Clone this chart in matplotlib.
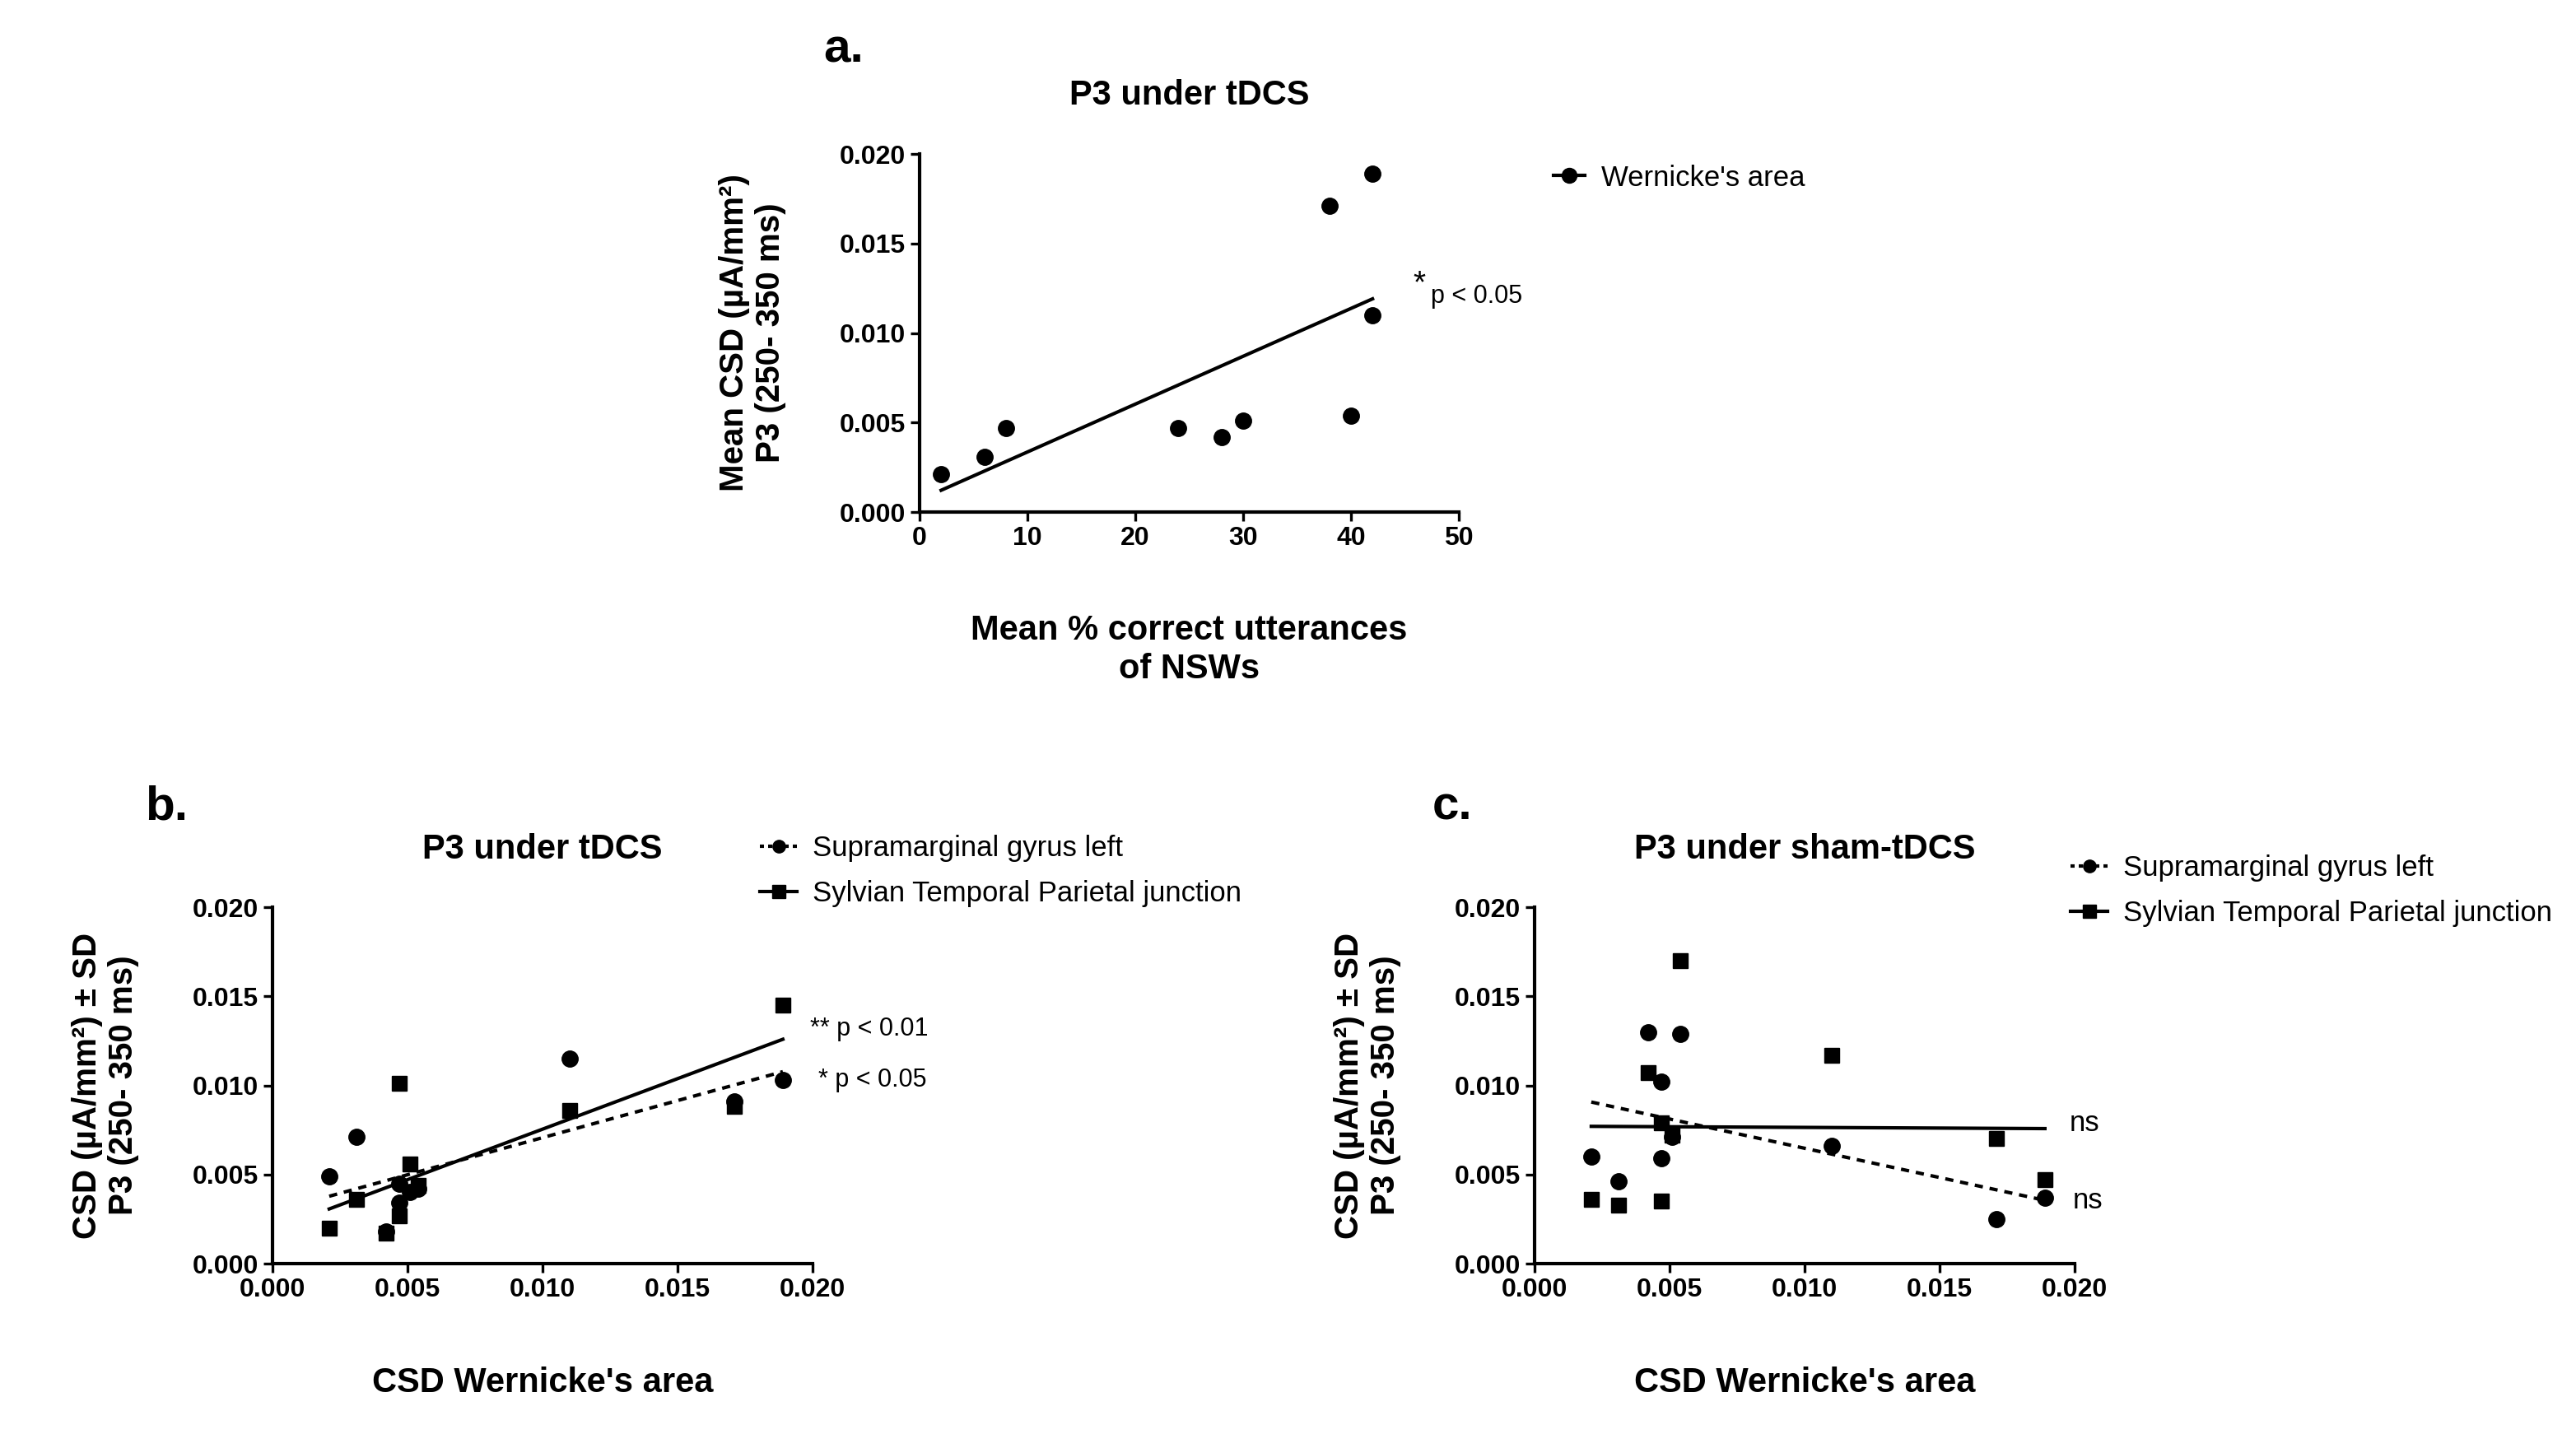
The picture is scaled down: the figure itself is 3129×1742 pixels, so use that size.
''' P3 / CSD correlation panels (a, b, c) '''

import numpy as np
import matplotlib
matplotlib.use('Agg')
import matplotlib.pyplot as plt
from matplotlib.lines import Line2D

plt.rcParams['font.family'] = ['Liberation Sans', 'DejaVu Sans']

# ---- data ----
# panel a: % correct utterances vs mean CSD in Wernicke's area
pct_correct = [2, 6, 8, 24, 28, 30, 38, 40, 42, 42]
wernicke = [0.0021, 0.0031, 0.0047, 0.0047, 0.0042, 0.0051, 0.0171, 0.0054, 0.0189, 0.0110]

# panel b: tDCS
smg_tdcs = [0.0049, 0.0071, 0.0034, 0.0045, 0.0018, 0.0040, 0.0091, 0.0042, 0.0103, 0.0115]
stp_tdcs = [0.0020, 0.0036, 0.0027, 0.0101, 0.0017, 0.0056, 0.0088, 0.0044, 0.0145, 0.0086]

# panel c: sham-tDCS
smg_sham = [0.0060, 0.0046, 0.0059, 0.0102, 0.0130, 0.0071, 0.0025, 0.0129, 0.0037, 0.0066]
stp_sham = [0.0036, 0.0033, 0.0035, 0.0079, 0.0107, 0.0072, 0.0070, 0.0170, 0.0047, 0.0117]

labels_bc = ['Supramarginal gyrus left', 'Sylvian Temporal Parietal junction']
xticks_a = [0, 10, 20, 30, 40, 50]
ticks_csd = [0.000, 0.005, 0.010, 0.015, 0.020]

W, H = 3129, 1742
fig = plt.figure(figsize=(W / 100, H / 100), dpi=100)


def rect(left, top, right, bottom):
    return [left / W, 1 - bottom / H, (right - left) / W, (bottom - top) / H]


def style_axes(ax):
    for s in ['top', 'right']:
        ax.spines[s].set_visible(False)
    for s in ['left', 'bottom']:
        ax.spines[s].set_linewidth(3)
    ax.tick_params(width=2.4, length=8, labelsize=23, pad=4)
    for lab in ax.get_xticklabels() + ax.get_yticklabels():
        lab.set_fontweight('bold')
    ax.set_yticks(ticks_csd)
    ax.set_yticklabels([f'{t:.3f}' for t in ticks_csd], fontweight='bold')
    ax.set_ylim(0, 0.020)


def fit_line(ax, x, y, ls):
    # linear regression drawn over the x range of the data
    k, b = np.polyfit(x, y, 1)
    xs = np.array([min(x), max(x)])
    ax.plot(xs, k * xs + b, color='black', lw=3, linestyle=ls, zorder=2)


# ---------- panel a ----------
ax = fig.add_axes(rect(1117, 187, 1772, 622))
ax.plot(pct_correct, wernicke, 'o', color='black', ms=14, zorder=3)
fit_line(ax, pct_correct, wernicke, '-')
ax.set_xlim(0, 50)
ax.set_xticks(xticks_a)
ax.set_xticklabels([str(t) for t in xticks_a], fontweight='bold')
style_axes(ax)
ax.set_ylabel('Mean CSD (\u00b5A/mm\u00b2)\nP3 (250- 350 ms)', fontsize=29,
              fontweight='bold', va='center')
ax.yaxis.set_label_coords(-0.31, 0.5)
ax.set_xlabel('Mean % correct utterances\nof NSWs', fontsize=30,
              fontweight='bold', va='center', linespacing=1.2)
ax.xaxis.set_label_coords(0.5, -0.385)
ax.text(0.5, 1 + 71 / 435, 'P3 under tDCS', transform=ax.transAxes,
        ha='center', va='center', fontsize=30, fontweight='bold')
h = [Line2D([], [], color='black', marker='o', ms=13, lw=3)]
fig.legend(h, ["Wernicke's area"], loc='center left', frameon=False,
           bbox_to_anchor=(1856 / W, 1 - 216 / H), fontsize=25,
           handlelength=1.1, handletextpad=0.55)
fig.text(1716 / W, 1 - 345 / H, '*', fontsize=28, ha='left', va='center')
fig.text(1738 / W, 1 - 360 / H, 'p < 0.05', fontsize=22, ha='left', va='center')
fig.text(1000 / W, 1 - 60 / H, 'a.', fontsize=42, fontweight='bold',
         ha='left', va='center')

# ---------- panels b and c ----------
panels = [
    (rect(331, 1102, 987, 1535), smg_tdcs, stp_tdcs, 'P3 under tDCS', 'b.', 176,
     (892, 1058)),
    (rect(1864, 1102, 2520, 1535), smg_sham, stp_sham, 'P3 under sham-tDCS', 'c.',
     1740, (2484, 1082)),
]
for pos, smg, stp, title, letter, lx, leg in panels:
    ax = fig.add_axes(pos)
    ax.plot(wernicke, smg, 'o', color='black', ms=14, zorder=3)
    ax.plot(wernicke, stp, 's', color='black', ms=13, zorder=3)
    fit_line(ax, wernicke, smg, (0, (2.4, 2)))
    fit_line(ax, wernicke, stp, '-')
    ax.set_xlim(0, 0.020)
    ax.set_xticks(ticks_csd)
    ax.set_xticklabels([f'{t:.3f}' for t in ticks_csd], fontweight='bold')
    style_axes(ax)
    ax.set_ylabel('CSD (\u00b5A/mm\u00b2) \u00b1 SD\nP3 (250- 350 ms)', fontsize=29,
                  fontweight='bold', va='center')
    ax.yaxis.set_label_coords(-0.31, 0.5)
    ax.set_xlabel("CSD Wernicke's area", fontsize=30, fontweight='bold', va='center')
    ax.xaxis.set_label_coords(0.5, -0.335)
    ax.text(0.5, 1 + 70 / 435, title, transform=ax.transAxes,
            ha='center', va='center', fontsize=30, fontweight='bold')
    hs = [Line2D([], [], color='black', marker='o', ms=11, lw=3, linestyle=(0, (1.2, 1.2))),
          Line2D([], [], color='black', marker='s', ms=11, lw=3)]
    fig.legend(hs, labels_bc, loc='center left', frameon=False,
               bbox_to_anchor=(leg[0] / W, 1 - leg[1] / H), fontsize=25,
               handlelength=1.3, handletextpad=0.55, labelspacing=0.65)
    fig.text(lx / W, 1 - 980 / H, letter, fontsize=42, fontweight='bold',
             ha='left', va='center')

fig.text(984 / W, 1 - 1250 / H, '** p < 0.01', fontsize=22, ha='left', va='center')
fig.text(994 / W, 1 - 1312 / H, '* p < 0.05', fontsize=22, ha='left', va='center')
fig.text(2514 / W, 1 - 1364 / H, 'ns', fontsize=25, ha='left', va='center')
fig.text(2518 / W, 1 - 1458 / H, 'ns', fontsize=25, ha='left', va='center')

fig.savefig('out.png', dpi=100, facecolor='white')
